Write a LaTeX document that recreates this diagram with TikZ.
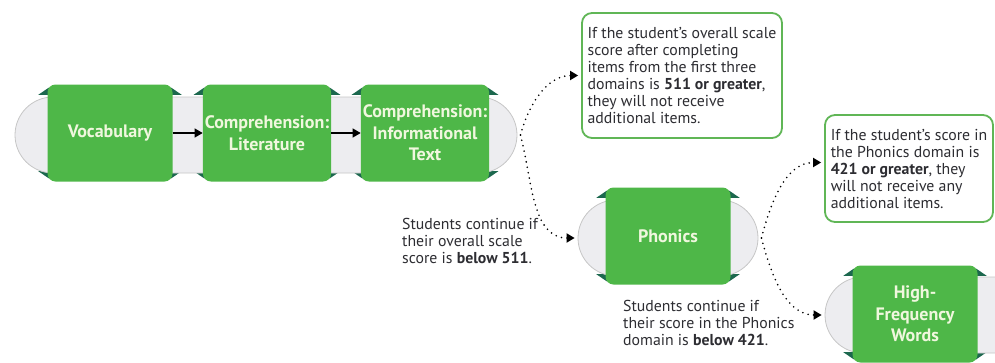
\documentclass[tikz,border=0pt]{standalone}
\usepackage{fontspec}
\setmainfont{PT Sans}
\usetikzlibrary{arrows.meta,backgrounds}
\definecolor{stepgreen}{RGB}{78,183,72}
\definecolor{cornergreen}{RGB}{28,104,78}
\definecolor{bandgrey}{RGB}{237,237,240}
\definecolor{framegreen}{RGB}{96,182,86}
\definecolor{textgrey}{RGB}{45,45,50}
\definecolor{labelwhite}{RGB}{240,247,222}
\begin{document}
\begin{tikzpicture}[x=1pt,y=1pt,>={Triangle[length=8pt,width=9pt]},line join=round,
    band/.style={draw=gray!45,line width=0.8pt,fill=bandgrey,rounded corners=38pt,minimum height=76pt,inner sep=0pt},
    domainbox/.style={fill=stepgreen,rounded corners=8pt,minimum width=125pt,minimum height=97pt,inner sep=2pt,align=center,text=labelwhite,font=\bfseries\fontsize{18}{21.5}\selectfont},
    notebox/.style={draw=framegreen,line width=1.8pt,fill=white,rounded corners=10pt,align=left,text=textgrey,font=\fontsize{15.8}{17}\selectfont},
    remark/.style={align=left,text=textgrey,font=\fontsize{15.8}{17}\selectfont,inner sep=0pt},
    dots/.style={line width=1.8pt,dash pattern=on 0pt off 5.5pt,line cap=round,->,shorten >=3pt},
    link/.style={line width=1.2pt,->}]
    \useasboundingbox (0,0) rectangle (995,-362);
    \clip (0,0) rectangle (995,-362);

    % grey bands
    \node[band,minimum width=502pt] (chain) at (266,-135) {};
    \node[band,minimum width=180pt] (phonicsband) at (668,-238) {};
    \node[band,minimum width=220pt] (hfwband) at (935,-315) {};

    % domains
    \node[domainbox] (vocab) at (110,-133) {Vocabulary};
    \node[domainbox] (lit) at (267,-133) {Comprehension:\\Literature};
    \node[domainbox] (info) at (425,-133) {Comprehension:\\Informational\\Text};
    \node[domainbox] (phonics) at (668,-236) {Phonics};
    \node[domainbox] (hfw) at (915,-314) {High-\\Frequency\\Words};
    % dark wedges at the corners
    \begin{scope}[on background layer]
        \foreach \n in {vocab,lit,info,phonics,hfw}
            \foreach \c/\sx/\sy in {north west/-1/-1,north east/1/-1,south west/-1/1,south east/1/1}
                \fill[cornergreen] ([xshift=-\sx*2pt,yshift=\sy*3pt]\n.\c) -- ([xshift=-\sx*2pt,yshift=\sy*10.5pt]\n.\c) -- ([xshift=\sx*9pt,yshift=\sy*10.5pt]\n.\c) -- cycle;
    \end{scope}

    % notes
    \node[notebox,minimum width=200pt,minimum height=125pt] (note1) at (682,-75.5) {If the student’s overall scale\\score after completing\\items from the first three\\domains is \textbf{511 or greater},\\they will not receive\\additional items.};
    \node[notebox,minimum width=168pt,minimum height=107pt] (note2) at (909,-168.5) {If the student’s score in\\the Phonics domain is\\\textbf{421 or greater}, they\\will not receive any\\additional items.};
    \node[remark,anchor=north west] (remark1) at (402,-218) {Students continue if\\their overall scale\\score is \textbf{below 511}.};
    \node[remark,anchor=north west] (remark2) at (623,-300) {Students continue if\\their score in the Phonics\\domain is \textbf{below 421}.};

    \draw[link] (vocab) -- (lit);
    \draw[link] (lit) -- (info);
    \draw[dots] ([xshift=3pt]chain.east) to[out=75,in=180] (note1.west);
    \draw[dots] ([xshift=3pt]chain.east) to[out=-75,in=180] (phonicsband.west);
    \draw[dots] ([xshift=3pt]phonicsband.east) to[out=75,in=180] ([yshift=6pt]note2.west);
    \draw[dots] ([xshift=3pt]phonicsband.east) to[out=-75,in=180] (hfwband.west);
\end{tikzpicture}
\end{document}
